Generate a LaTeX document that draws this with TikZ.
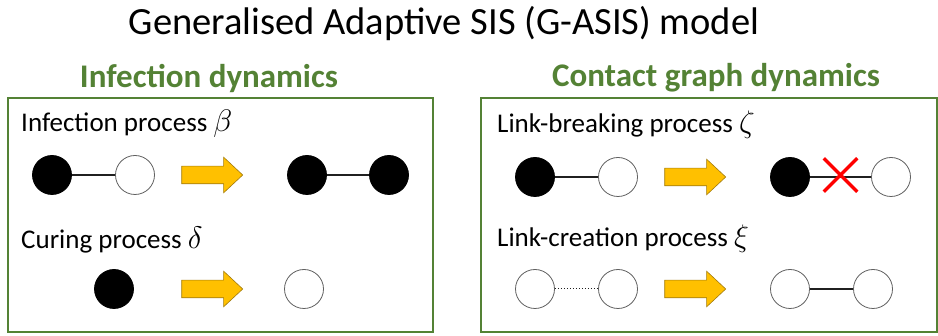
\documentclass[tikz,border=0pt]{standalone}
\usepackage{fontspec}
\setmainfont{Carlito}
\usetikzlibrary{shapes.arrows,shapes.misc,calc}

\newcommand{\rate}[1]{\scalebox{1.25}{$#1$}}

\begin{document}
\begin{tikzpicture}[x=1pt, y=-1pt,
    agent/.style={circle, minimum size=39pt, inner sep=0pt, line width=0.8pt},
    infected/.style={agent, draw=black, fill=black},
    healthy/.style={agent, draw=circleGrey, fill=white},
    link/.style={line width=1.6pt, draw=linkGrey},
    nolink/.style={line width=1pt, dotted, draw=linkGrey},
    yarrow/.style={single arrow, draw=arrowBorder, fill=arrowFill, line width=0.6pt,
        minimum height=61pt, inner xsep=2pt, inner ysep=8.5pt,
        single arrow head extend=9pt, single arrow tip angle=86},
    panel/.style={draw=panelGreen, line width=2pt},
    heading/.style={text=panelGreen, font=\bfseries\fontsize{33}{38}\selectfont},
    process/.style={anchor=west, inner sep=0pt, font=\fontsize{27}{32}\selectfont}]
    \definecolor{panelGreen}{HTML}{548235}
    \definecolor{arrowFill}{HTML}{FFC000}
    \definecolor{arrowBorder}{HTML}{A07A10}
    \definecolor{circleGrey}{HTML}{606060}
    \definecolor{linkGrey}{HTML}{202020}

    \useasboundingbox (0,0) rectangle (938,336);

    % Title and headings
    \node (title) at (444,24) {\fontsize{38.5}{44}\selectfont Generalised Adaptive SIS (G-ASIS) model};
    \node[heading] (headL) at (209,78) {Infection dynamics};
    \node[heading] (headR) at (716,78) {Contact graph dynamics};

    % Panels
    \draw[panel] (8,98) rectangle (433,332);
    \draw[panel] (481,98) rectangle (937,332);

    % Infection process
    \node[process] (infText) at (21,124) {Infection process \rate{\beta}};
    \node[infected] (i1) at (52,175) {};
    \node[healthy]  (i2) at (135,175) {};
    \node[yarrow]   (ia) at (207.5,175) {};
    \node[infected] (i3) at (307,175) {};
    \node[infected] (i4) at (389,175) {};
    \draw[link] (i1) -- (i2);
    \draw[link] (i3) -- (i4);

    % Curing process
    \node[process] (curText) at (21,240) {Curing process \rate{\delta}};
    \node[infected] (c1) at (114,289) {};
    \node[yarrow]   (ca) at (207.5,289) {};
    \node[healthy]  (c2) at (304,289) {};

    % Link-breaking process
    \node[process] (brkText) at (497,125) {Link-breaking process \rate{\zeta}};
    \node[infected] (b1) at (535,177) {};
    \node[healthy]  (b2) at (618,177) {};
    \node[yarrow]   (ba) at (690.5,177) {};
    \node[infected] (b3) at (790,177) {};
    \node[healthy]  (b4) at (891,177) {};
    \draw[link] (b1) -- (b2);
    \draw[link] (b3) -- (b4);
    \node[cross out, draw=red, line width=3.5pt, minimum size=30pt, inner sep=0pt]
        (cut) at ($(b3)!0.5!(b4)+(0,-2)$) {};

    % Link-creation process
    \node[process] (crtText) at (497,239) {Link-creation process \rate{\xi}};
    \node[healthy]  (n1) at (535,289) {};
    \node[healthy]  (n2) at (618,289) {};
    \node[yarrow]   (na) at (690.5,289) {};
    \node[healthy]  (n3) at (790,289) {};
    \node[healthy]  (n4) at (873,289) {};
    \draw[nolink] (n1) -- (n2);
    \draw[link] (n3) -- (n4);

\end{tikzpicture}
\end{document}
